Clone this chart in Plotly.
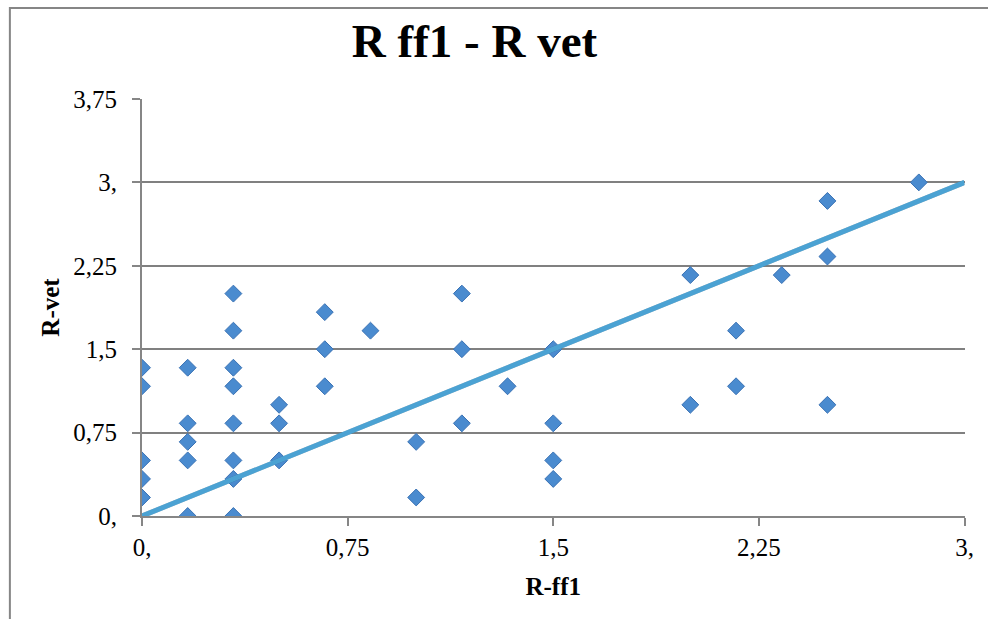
import plotly.graph_objects as go

# Data (values on a 1/6 grid)
r_ff1 = [0, 0, 0, 0, 0,
         1/6, 1/6, 1/6, 1/6, 1/6,
         2/6, 2/6, 2/6, 2/6, 2/6, 2/6, 2/6, 2/6,
         3/6, 3/6, 3/6,
         4/6, 4/6, 4/6,
         5/6,
         1.0, 1.0,
         7/6, 7/6, 7/6,
         8/6,
         1.5, 1.5, 1.5, 1.5,
         2.0, 2.0,
         13/6, 13/6,
         14/6,
         2.5, 2.5, 2.5,
         17/6]
r_vet = [8/6, 7/6, 3/6, 2/6, 1/6,
         8/6, 5/6, 4/6, 3/6, 0,
         2.0, 10/6, 8/6, 7/6, 5/6, 3/6, 2/6, 0,
         1.0, 5/6, 3/6,
         11/6, 1.5, 7/6,
         10/6,
         4/6, 1/6,
         2.0, 1.5, 5/6,
         7/6,
         1.5, 5/6, 3/6, 2/6,
         13/6, 1.0,
         10/6, 7/6,
         13/6,
         17/6, 14/6, 1.0,
         3.0]

line_x = [0, 3]
line_y = [0, 3]

tick_vals = [0, 0.75, 1.5, 2.25, 3, 3.75]
tick_text = ["0,", "0,75", "1,5", "2,25", "3,", "3,75"]
x_tick_vals = [0, 0.75, 1.5, 2.25, 3]
x_tick_text = ["0,", "0,75", "1,5", "2,25", "3,"]

W, H = 988, 619
sx, sy = 2.5, 3.0  # shadow offset in px
ml, mr, mt, mb = 142, 18 - sx, 99, 103 - sy
pw = W - ml - mr
ph = H - mt - mb
dx = sx / pw
dy = sy / ph

font_family = "'Liberation Serif', 'Times New Roman', Times, 'DejaVu Serif', serif"

fig = go.Figure()

# markers on the main axes
fig.add_trace(go.Scatter(x=r_ff1, y=r_vet, mode="markers",
                         marker=dict(symbol="diamond", size=13, color="#4A8BCF",
                                     line=dict(color="#3A72B4", width=1)),
                         showlegend=False))

# shadow of the line (same data, on slightly offset overlay axes)
fig.add_trace(go.Scatter(x=line_x, y=line_y, mode="lines",
                         line=dict(color="rgba(0,0,0,0.25)", width=5),
                         xaxis="x2", yaxis="y2", hoverinfo="skip", showlegend=False))

# the line itself, on an overlay drawn above the shadow
fig.add_trace(go.Scatter(x=line_x, y=line_y, mode="lines",
                         line=dict(color="#4BA2D3", width=5),
                         xaxis="x3", yaxis="y3", showlegend=False))

fig.update_layout(
    width=W, height=H,
    margin=dict(l=ml, r=mr, t=mt, b=mb),
    paper_bgcolor="white", plot_bgcolor="white",
    font=dict(family=font_family, color="black"),
    title=dict(text="<b>R ff1 - R vet</b>", x=474.5 / W, xref="container",
               xanchor="center", y=1 - 41 / H, yref="container", yanchor="middle",
               font=dict(size=47, family=font_family, color="black")),
    xaxis=dict(range=[0, 3], domain=[0, 1 - dx], tickvals=x_tick_vals, ticktext=x_tick_text,
               showgrid=False, zeroline=False, showline=True, linecolor="#868686", linewidth=2,
               ticks="outside", ticklen=8, tickwidth=2, tickcolor="#868686",
               tickfont=dict(size=25, family=font_family, color="black"),
               title=dict(text="<b>R-ff1</b>", font=dict(size=25, family=font_family, color="black"),
                          standoff=17),
               fixedrange=True),
    yaxis=dict(range=[0, 3.75], domain=[dy, 1], tickvals=tick_vals, ticktext=tick_text,
               showgrid=True, gridcolor="#808080", gridwidth=2,
               zeroline=False, showline=True, linecolor="#868686", linewidth=2,
               ticks="outside", ticklen=8, tickwidth=2, tickcolor="#868686",
               ticklabelstandoff=10,
               tickfont=dict(size=25, family=font_family, color="black"),
               title=dict(text="<b>R-vet</b>", font=dict(size=25, family=font_family, color="black"),
                          standoff=7),
               fixedrange=True),
    xaxis2=dict(range=[0, 3], domain=[dx, 1], overlaying="x", visible=False, fixedrange=True),
    yaxis2=dict(range=[0, 3.75], domain=[0, 1 - dy], overlaying="y", visible=False, fixedrange=True),
    xaxis3=dict(range=[0, 3], domain=[0, 1 - dx], overlaying="x", visible=False, fixedrange=True),
    yaxis3=dict(range=[0, 3.75], domain=[dy, 1], overlaying="y", visible=False, fixedrange=True),
    shapes=[dict(type="rect", xref="paper", yref="paper",
                 x0=(9 - ml) / pw, x1=(W + 20 - ml) / pw,
                 y0=-(mb + 20) / ph, y1=1 + (mt - 8) / ph,
                 line=dict(color="#868686", width=2), layer="below")],
)

fig.write_html("out.html")
